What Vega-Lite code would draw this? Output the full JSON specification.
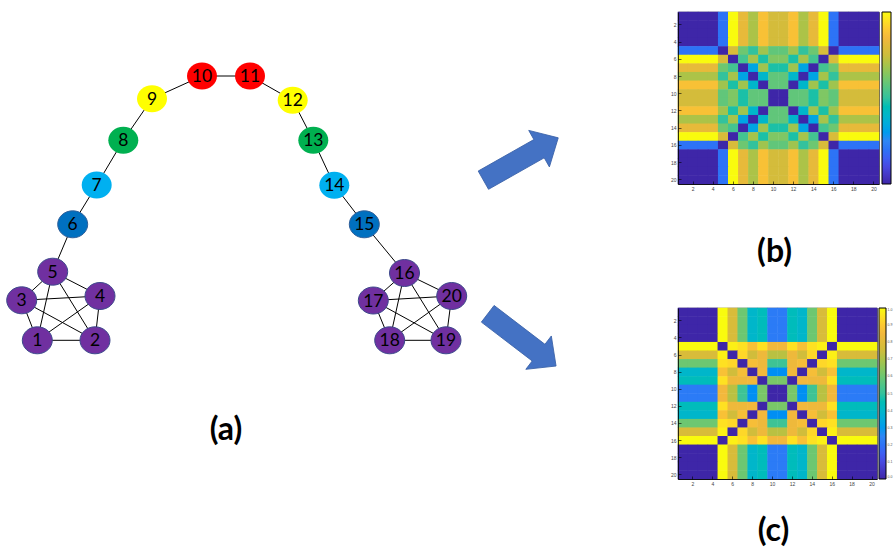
{
  "$schema": "https://vega.github.io/schema/vega-lite/v6.json",
  "padding": {"left": 0, "top": 11, "right": 0, "bottom": 0},
  "background": "white",
  "bounds": "flush",
  "spacing": 78,
  "config": {
    "font": "Lato",
    "view": {"stroke": "black", "strokeWidth": 0.8},
    "axis": {"domainColor": "black", "domainWidth": 0.8, "tickColor": "black", "tickWidth": 0.6, "tickSize": -3, "labelFontSize": 5, "labelColor": "#444", "labelFont": "Liberation Sans", "labelPadding": 5, "grid": false, "bandPosition": 0.5}
  },
  "datasets": {
    "nodes": [
      {"id": 1, "g": "clique", "x": 37.3, "y": 339.3},
      {"id": 2, "g": "clique", "x": 95, "y": 339.3},
      {"id": 3, "g": "clique", "x": 21.7, "y": 299.3},
      {"id": 4, "g": "clique", "x": 100, "y": 295},
      {"id": 5, "g": "clique", "x": 52.7, "y": 270.7},
      {"id": 6, "g": "d1", "x": 72.7, "y": 223.3},
      {"id": 7, "g": "d2", "x": 96.7, "y": 184},
      {"id": 8, "g": "d3", "x": 123.3, "y": 139.3},
      {"id": 9, "g": "d4", "x": 152, "y": 97.7},
      {"id": 10, "g": "d5", "x": 202, "y": 75},
      {"id": 11, "g": "d5", "x": 250, "y": 75},
      {"id": 12, "g": "d4", "x": 292.7, "y": 99.3},
      {"id": 13, "g": "d3", "x": 313.3, "y": 139.3},
      {"id": 14, "g": "d2", "x": 334.3, "y": 184.3},
      {"id": 15, "g": "d1", "x": 364.3, "y": 223.3},
      {"id": 16, "g": "clique", "x": 404.5, "y": 272},
      {"id": 17, "g": "clique", "x": 373.3, "y": 299.5},
      {"id": 18, "g": "clique", "x": 389.7, "y": 339.3},
      {"id": 19, "g": "clique", "x": 446, "y": 339.3},
      {"id": 20, "g": "clique", "x": 451.7, "y": 295}
    ],
    "edges": [
      {"s": 1, "t": 2}, {"s": 1, "t": 3}, {"s": 1, "t": 4}, {"s": 1, "t": 5}, {"s": 2, "t": 3},
      {"s": 2, "t": 4}, {"s": 2, "t": 5}, {"s": 3, "t": 4}, {"s": 3, "t": 5}, {"s": 4, "t": 5},
      {"s": 5, "t": 6}, {"s": 6, "t": 7}, {"s": 7, "t": 8}, {"s": 8, "t": 9}, {"s": 9, "t": 10},
      {"s": 10, "t": 11}, {"s": 11, "t": 12}, {"s": 12, "t": 13}, {"s": 13, "t": 14}, {"s": 14, "t": 15},
      {"s": 15, "t": 16},
      {"s": 16, "t": 17}, {"s": 16, "t": 18}, {"s": 16, "t": 19}, {"s": 16, "t": 20}, {"s": 17, "t": 18},
      {"s": 17, "t": 19}, {"s": 17, "t": 20}, {"s": 18, "t": 19}, {"s": 18, "t": 20}, {"s": 19, "t": 20}
    ],
    "arrows": [
      {"to": "b", "x": 520.8, "y": 158},
      {"to": "c", "x": 521.9, "y": 338.9}
    ],
    "panel": [{"label": "(a)", "x": 226, "y": 429}],
    "cells": [
      {"i":1,"j":1,"b":0,"c":0},{"i":1,"j":2,"b":0,"c":0},{"i":1,"j":3,"b":0,"c":0},{"i":1,"j":4,"b":0,"c":0},{"i":1,"j":5,"b":0.2,"c":1},{"i":1,"j":6,"b":1,"c":0.78},{"i":1,"j":7,"b":0.82,"c":0.6},{"i":1,"j":8,"b":0.7,"c":0.4},{"i":1,"j":9,"b":0.88,"c":0.44},{"i":1,"j":10,"b":0.77,"c":0.22},{"i":1,"j":11,"b":0.77,"c":0.22},{"i":1,"j":12,"b":0.88,"c":0.44},{"i":1,"j":13,"b":0.7,"c":0.4},{"i":1,"j":14,"b":0.82,"c":0.6},{"i":1,"j":15,"b":1,"c":0.78},{"i":1,"j":16,"b":0.2,"c":1},{"i":1,"j":17,"b":0,"c":0},{"i":1,"j":18,"b":0,"c":0},{"i":1,"j":19,"b":0,"c":0},{"i":1,"j":20,"b":0,"c":0},
      {"i":2,"j":1,"b":0,"c":0},{"i":2,"j":2,"b":0,"c":0},{"i":2,"j":3,"b":0,"c":0},{"i":2,"j":4,"b":0,"c":0},{"i":2,"j":5,"b":0.2,"c":1},{"i":2,"j":6,"b":1,"c":0.78},{"i":2,"j":7,"b":0.82,"c":0.6},{"i":2,"j":8,"b":0.7,"c":0.4},{"i":2,"j":9,"b":0.88,"c":0.44},{"i":2,"j":10,"b":0.77,"c":0.22},{"i":2,"j":11,"b":0.77,"c":0.22},{"i":2,"j":12,"b":0.88,"c":0.44},{"i":2,"j":13,"b":0.7,"c":0.4},{"i":2,"j":14,"b":0.82,"c":0.6},{"i":2,"j":15,"b":1,"c":0.78},{"i":2,"j":16,"b":0.2,"c":1},{"i":2,"j":17,"b":0,"c":0},{"i":2,"j":18,"b":0,"c":0},{"i":2,"j":19,"b":0,"c":0},{"i":2,"j":20,"b":0,"c":0},
      {"i":3,"j":1,"b":0,"c":0},{"i":3,"j":2,"b":0,"c":0},{"i":3,"j":3,"b":0,"c":0},{"i":3,"j":4,"b":0,"c":0},{"i":3,"j":5,"b":0.2,"c":1},{"i":3,"j":6,"b":1,"c":0.78},{"i":3,"j":7,"b":0.82,"c":0.6},{"i":3,"j":8,"b":0.7,"c":0.4},{"i":3,"j":9,"b":0.88,"c":0.44},{"i":3,"j":10,"b":0.77,"c":0.22},{"i":3,"j":11,"b":0.77,"c":0.22},{"i":3,"j":12,"b":0.88,"c":0.44},{"i":3,"j":13,"b":0.7,"c":0.4},{"i":3,"j":14,"b":0.82,"c":0.6},{"i":3,"j":15,"b":1,"c":0.78},{"i":3,"j":16,"b":0.2,"c":1},{"i":3,"j":17,"b":0,"c":0},{"i":3,"j":18,"b":0,"c":0},{"i":3,"j":19,"b":0,"c":0},{"i":3,"j":20,"b":0,"c":0},
      {"i":4,"j":1,"b":0,"c":0},{"i":4,"j":2,"b":0,"c":0},{"i":4,"j":3,"b":0,"c":0},{"i":4,"j":4,"b":0,"c":0},{"i":4,"j":5,"b":0.2,"c":1},{"i":4,"j":6,"b":1,"c":0.78},{"i":4,"j":7,"b":0.82,"c":0.6},{"i":4,"j":8,"b":0.7,"c":0.4},{"i":4,"j":9,"b":0.88,"c":0.44},{"i":4,"j":10,"b":0.77,"c":0.22},{"i":4,"j":11,"b":0.77,"c":0.22},{"i":4,"j":12,"b":0.88,"c":0.44},{"i":4,"j":13,"b":0.7,"c":0.4},{"i":4,"j":14,"b":0.82,"c":0.6},{"i":4,"j":15,"b":1,"c":0.78},{"i":4,"j":16,"b":0.2,"c":1},{"i":4,"j":17,"b":0,"c":0},{"i":4,"j":18,"b":0,"c":0},{"i":4,"j":19,"b":0,"c":0},{"i":4,"j":20,"b":0,"c":0},
      {"i":5,"j":1,"b":0.2,"c":1},{"i":5,"j":2,"b":0.2,"c":1},{"i":5,"j":3,"b":0.2,"c":1},{"i":5,"j":4,"b":0.2,"c":1},{"i":5,"j":5,"b":0,"c":0},{"i":5,"j":6,"b":0.78,"c":0.98},{"i":5,"j":7,"b":0.6,"c":0.95},{"i":5,"j":8,"b":0.5,"c":0.88},{"i":5,"j":9,"b":0.68,"c":0.95},{"i":5,"j":10,"b":0.58,"c":0.85},{"i":5,"j":11,"b":0.58,"c":0.85},{"i":5,"j":12,"b":0.68,"c":0.95},{"i":5,"j":13,"b":0.5,"c":0.88},{"i":5,"j":14,"b":0.6,"c":0.95},{"i":5,"j":15,"b":0.78,"c":0.98},{"i":5,"j":16,"b":0,"c":0},{"i":5,"j":17,"b":0.2,"c":1},{"i":5,"j":18,"b":0.2,"c":1},{"i":5,"j":19,"b":0.2,"c":1},{"i":5,"j":20,"b":0.2,"c":1},
      {"i":6,"j":1,"b":1,"c":0.78},{"i":6,"j":2,"b":1,"c":0.78},{"i":6,"j":3,"b":1,"c":0.78},{"i":6,"j":4,"b":1,"c":0.78},{"i":6,"j":5,"b":0.78,"c":0.98},{"i":6,"j":6,"b":0,"c":0},{"i":6,"j":7,"b":0.53,"c":0.93},{"i":6,"j":8,"b":0.69,"c":0.76},{"i":6,"j":9,"b":0.48,"c":0.84},{"i":6,"j":10,"b":0.63,"c":0.72},{"i":6,"j":11,"b":0.63,"c":0.72},{"i":6,"j":12,"b":0.48,"c":0.84},{"i":6,"j":13,"b":0.69,"c":0.76},{"i":6,"j":14,"b":0.53,"c":0.93},{"i":6,"j":15,"b":0,"c":0},{"i":6,"j":16,"b":0.78,"c":0.98},{"i":6,"j":17,"b":1,"c":0.78},{"i":6,"j":18,"b":1,"c":0.78},{"i":6,"j":19,"b":1,"c":0.78},{"i":6,"j":20,"b":1,"c":0.78},
      {"i":7,"j":1,"b":0.82,"c":0.6},{"i":7,"j":2,"b":0.82,"c":0.6},{"i":7,"j":3,"b":0.82,"c":0.6},{"i":7,"j":4,"b":0.82,"c":0.6},{"i":7,"j":5,"b":0.6,"c":0.95},{"i":7,"j":6,"b":0.53,"c":0.93},{"i":7,"j":7,"b":0,"c":0},{"i":7,"j":8,"b":0.33,"c":0.87},{"i":7,"j":9,"b":0.68,"c":0.84},{"i":7,"j":10,"b":0.48,"c":0.52},{"i":7,"j":11,"b":0.48,"c":0.52},{"i":7,"j":12,"b":0.68,"c":0.84},{"i":7,"j":13,"b":0.33,"c":0.87},{"i":7,"j":14,"b":0,"c":0},{"i":7,"j":15,"b":0.53,"c":0.93},{"i":7,"j":16,"b":0.6,"c":0.95},{"i":7,"j":17,"b":0.82,"c":0.6},{"i":7,"j":18,"b":0.82,"c":0.6},{"i":7,"j":19,"b":0.82,"c":0.6},{"i":7,"j":20,"b":0.82,"c":0.6},
      {"i":8,"j":1,"b":0.7,"c":0.4},{"i":8,"j":2,"b":0.7,"c":0.4},{"i":8,"j":3,"b":0.7,"c":0.4},{"i":8,"j":4,"b":0.7,"c":0.4},{"i":8,"j":5,"b":0.5,"c":0.88},{"i":8,"j":6,"b":0.69,"c":0.76},{"i":8,"j":7,"b":0.33,"c":0.87},{"i":8,"j":8,"b":0,"c":0},{"i":8,"j":9,"b":0.4,"c":0.85},{"i":8,"j":10,"b":0.58,"c":0.27},{"i":8,"j":11,"b":0.58,"c":0.27},{"i":8,"j":12,"b":0.4,"c":0.85},{"i":8,"j":13,"b":0,"c":0},{"i":8,"j":14,"b":0.33,"c":0.87},{"i":8,"j":15,"b":0.69,"c":0.76},{"i":8,"j":16,"b":0.5,"c":0.88},{"i":8,"j":17,"b":0.7,"c":0.4},{"i":8,"j":18,"b":0.7,"c":0.4},{"i":8,"j":19,"b":0.7,"c":0.4},{"i":8,"j":20,"b":0.7,"c":0.4},
      {"i":9,"j":1,"b":0.88,"c":0.44},{"i":9,"j":2,"b":0.88,"c":0.44},{"i":9,"j":3,"b":0.88,"c":0.44},{"i":9,"j":4,"b":0.88,"c":0.44},{"i":9,"j":5,"b":0.68,"c":0.95},{"i":9,"j":6,"b":0.48,"c":0.84},{"i":9,"j":7,"b":0.68,"c":0.84},{"i":9,"j":8,"b":0.4,"c":0.85},{"i":9,"j":9,"b":0,"c":0},{"i":9,"j":10,"b":0.58,"c":0.62},{"i":9,"j":11,"b":0.58,"c":0.62},{"i":9,"j":12,"b":0,"c":0},{"i":9,"j":13,"b":0.4,"c":0.85},{"i":9,"j":14,"b":0.68,"c":0.84},{"i":9,"j":15,"b":0.48,"c":0.84},{"i":9,"j":16,"b":0.68,"c":0.95},{"i":9,"j":17,"b":0.88,"c":0.44},{"i":9,"j":18,"b":0.88,"c":0.44},{"i":9,"j":19,"b":0.88,"c":0.44},{"i":9,"j":20,"b":0.88,"c":0.44},
      {"i":10,"j":1,"b":0.77,"c":0.22},{"i":10,"j":2,"b":0.77,"c":0.22},{"i":10,"j":3,"b":0.77,"c":0.22},{"i":10,"j":4,"b":0.77,"c":0.22},{"i":10,"j":5,"b":0.58,"c":0.85},{"i":10,"j":6,"b":0.63,"c":0.72},{"i":10,"j":7,"b":0.48,"c":0.52},{"i":10,"j":8,"b":0.58,"c":0.27},{"i":10,"j":9,"b":0.58,"c":0.62},{"i":10,"j":10,"b":0,"c":0},{"i":10,"j":11,"b":0,"c":0},{"i":10,"j":12,"b":0.58,"c":0.62},{"i":10,"j":13,"b":0.58,"c":0.27},{"i":10,"j":14,"b":0.48,"c":0.52},{"i":10,"j":15,"b":0.63,"c":0.72},{"i":10,"j":16,"b":0.58,"c":0.85},{"i":10,"j":17,"b":0.77,"c":0.22},{"i":10,"j":18,"b":0.77,"c":0.22},{"i":10,"j":19,"b":0.77,"c":0.22},{"i":10,"j":20,"b":0.77,"c":0.22},
      {"i":11,"j":1,"b":0.77,"c":0.22},{"i":11,"j":2,"b":0.77,"c":0.22},{"i":11,"j":3,"b":0.77,"c":0.22},{"i":11,"j":4,"b":0.77,"c":0.22},{"i":11,"j":5,"b":0.58,"c":0.85},{"i":11,"j":6,"b":0.63,"c":0.72},{"i":11,"j":7,"b":0.48,"c":0.52},{"i":11,"j":8,"b":0.58,"c":0.27},{"i":11,"j":9,"b":0.58,"c":0.62},{"i":11,"j":10,"b":0,"c":0},{"i":11,"j":11,"b":0,"c":0},{"i":11,"j":12,"b":0.58,"c":0.62},{"i":11,"j":13,"b":0.58,"c":0.27},{"i":11,"j":14,"b":0.48,"c":0.52},{"i":11,"j":15,"b":0.63,"c":0.72},{"i":11,"j":16,"b":0.58,"c":0.85},{"i":11,"j":17,"b":0.77,"c":0.22},{"i":11,"j":18,"b":0.77,"c":0.22},{"i":11,"j":19,"b":0.77,"c":0.22},{"i":11,"j":20,"b":0.77,"c":0.22},
      {"i":12,"j":1,"b":0.88,"c":0.44},{"i":12,"j":2,"b":0.88,"c":0.44},{"i":12,"j":3,"b":0.88,"c":0.44},{"i":12,"j":4,"b":0.88,"c":0.44},{"i":12,"j":5,"b":0.68,"c":0.95},{"i":12,"j":6,"b":0.48,"c":0.84},{"i":12,"j":7,"b":0.68,"c":0.84},{"i":12,"j":8,"b":0.4,"c":0.85},{"i":12,"j":9,"b":0,"c":0},{"i":12,"j":10,"b":0.58,"c":0.62},{"i":12,"j":11,"b":0.58,"c":0.62},{"i":12,"j":12,"b":0,"c":0},{"i":12,"j":13,"b":0.4,"c":0.85},{"i":12,"j":14,"b":0.68,"c":0.84},{"i":12,"j":15,"b":0.48,"c":0.84},{"i":12,"j":16,"b":0.68,"c":0.95},{"i":12,"j":17,"b":0.88,"c":0.44},{"i":12,"j":18,"b":0.88,"c":0.44},{"i":12,"j":19,"b":0.88,"c":0.44},{"i":12,"j":20,"b":0.88,"c":0.44},
      {"i":13,"j":1,"b":0.7,"c":0.4},{"i":13,"j":2,"b":0.7,"c":0.4},{"i":13,"j":3,"b":0.7,"c":0.4},{"i":13,"j":4,"b":0.7,"c":0.4},{"i":13,"j":5,"b":0.5,"c":0.88},{"i":13,"j":6,"b":0.69,"c":0.76},{"i":13,"j":7,"b":0.33,"c":0.87},{"i":13,"j":8,"b":0,"c":0},{"i":13,"j":9,"b":0.4,"c":0.85},{"i":13,"j":10,"b":0.58,"c":0.27},{"i":13,"j":11,"b":0.58,"c":0.27},{"i":13,"j":12,"b":0.4,"c":0.85},{"i":13,"j":13,"b":0,"c":0},{"i":13,"j":14,"b":0.33,"c":0.87},{"i":13,"j":15,"b":0.69,"c":0.76},{"i":13,"j":16,"b":0.5,"c":0.88},{"i":13,"j":17,"b":0.7,"c":0.4},{"i":13,"j":18,"b":0.7,"c":0.4},{"i":13,"j":19,"b":0.7,"c":0.4},{"i":13,"j":20,"b":0.7,"c":0.4},
      {"i":14,"j":1,"b":0.82,"c":0.6},{"i":14,"j":2,"b":0.82,"c":0.6},{"i":14,"j":3,"b":0.82,"c":0.6},{"i":14,"j":4,"b":0.82,"c":0.6},{"i":14,"j":5,"b":0.6,"c":0.95},{"i":14,"j":6,"b":0.53,"c":0.93},{"i":14,"j":7,"b":0,"c":0},{"i":14,"j":8,"b":0.33,"c":0.87},{"i":14,"j":9,"b":0.68,"c":0.84},{"i":14,"j":10,"b":0.48,"c":0.52},{"i":14,"j":11,"b":0.48,"c":0.52},{"i":14,"j":12,"b":0.68,"c":0.84},{"i":14,"j":13,"b":0.33,"c":0.87},{"i":14,"j":14,"b":0,"c":0},{"i":14,"j":15,"b":0.53,"c":0.93},{"i":14,"j":16,"b":0.6,"c":0.95},{"i":14,"j":17,"b":0.82,"c":0.6},{"i":14,"j":18,"b":0.82,"c":0.6},{"i":14,"j":19,"b":0.82,"c":0.6},{"i":14,"j":20,"b":0.82,"c":0.6},
      {"i":15,"j":1,"b":1,"c":0.78},{"i":15,"j":2,"b":1,"c":0.78},{"i":15,"j":3,"b":1,"c":0.78},{"i":15,"j":4,"b":1,"c":0.78},{"i":15,"j":5,"b":0.78,"c":0.98},{"i":15,"j":6,"b":0,"c":0},{"i":15,"j":7,"b":0.53,"c":0.93},{"i":15,"j":8,"b":0.69,"c":0.76},{"i":15,"j":9,"b":0.48,"c":0.84},{"i":15,"j":10,"b":0.63,"c":0.72},{"i":15,"j":11,"b":0.63,"c":0.72},{"i":15,"j":12,"b":0.48,"c":0.84},{"i":15,"j":13,"b":0.69,"c":0.76},{"i":15,"j":14,"b":0.53,"c":0.93},{"i":15,"j":15,"b":0,"c":0},{"i":15,"j":16,"b":0.78,"c":0.98},{"i":15,"j":17,"b":1,"c":0.78},{"i":15,"j":18,"b":1,"c":0.78},{"i":15,"j":19,"b":1,"c":0.78},{"i":15,"j":20,"b":1,"c":0.78},
      {"i":16,"j":1,"b":0.2,"c":1},{"i":16,"j":2,"b":0.2,"c":1},{"i":16,"j":3,"b":0.2,"c":1},{"i":16,"j":4,"b":0.2,"c":1},{"i":16,"j":5,"b":0,"c":0},{"i":16,"j":6,"b":0.78,"c":0.98},{"i":16,"j":7,"b":0.6,"c":0.95},{"i":16,"j":8,"b":0.5,"c":0.88},{"i":16,"j":9,"b":0.68,"c":0.95},{"i":16,"j":10,"b":0.58,"c":0.85},{"i":16,"j":11,"b":0.58,"c":0.85},{"i":16,"j":12,"b":0.68,"c":0.95},{"i":16,"j":13,"b":0.5,"c":0.88},{"i":16,"j":14,"b":0.6,"c":0.95},{"i":16,"j":15,"b":0.78,"c":0.98},{"i":16,"j":16,"b":0,"c":0},{"i":16,"j":17,"b":0.2,"c":1},{"i":16,"j":18,"b":0.2,"c":1},{"i":16,"j":19,"b":0.2,"c":1},{"i":16,"j":20,"b":0.2,"c":1},
      {"i":17,"j":1,"b":0,"c":0},{"i":17,"j":2,"b":0,"c":0},{"i":17,"j":3,"b":0,"c":0},{"i":17,"j":4,"b":0,"c":0},{"i":17,"j":5,"b":0.2,"c":1},{"i":17,"j":6,"b":1,"c":0.78},{"i":17,"j":7,"b":0.82,"c":0.6},{"i":17,"j":8,"b":0.7,"c":0.4},{"i":17,"j":9,"b":0.88,"c":0.44},{"i":17,"j":10,"b":0.77,"c":0.22},{"i":17,"j":11,"b":0.77,"c":0.22},{"i":17,"j":12,"b":0.88,"c":0.44},{"i":17,"j":13,"b":0.7,"c":0.4},{"i":17,"j":14,"b":0.82,"c":0.6},{"i":17,"j":15,"b":1,"c":0.78},{"i":17,"j":16,"b":0.2,"c":1},{"i":17,"j":17,"b":0,"c":0},{"i":17,"j":18,"b":0,"c":0},{"i":17,"j":19,"b":0,"c":0},{"i":17,"j":20,"b":0,"c":0},
      {"i":18,"j":1,"b":0,"c":0},{"i":18,"j":2,"b":0,"c":0},{"i":18,"j":3,"b":0,"c":0},{"i":18,"j":4,"b":0,"c":0},{"i":18,"j":5,"b":0.2,"c":1},{"i":18,"j":6,"b":1,"c":0.78},{"i":18,"j":7,"b":0.82,"c":0.6},{"i":18,"j":8,"b":0.7,"c":0.4},{"i":18,"j":9,"b":0.88,"c":0.44},{"i":18,"j":10,"b":0.77,"c":0.22},{"i":18,"j":11,"b":0.77,"c":0.22},{"i":18,"j":12,"b":0.88,"c":0.44},{"i":18,"j":13,"b":0.7,"c":0.4},{"i":18,"j":14,"b":0.82,"c":0.6},{"i":18,"j":15,"b":1,"c":0.78},{"i":18,"j":16,"b":0.2,"c":1},{"i":18,"j":17,"b":0,"c":0},{"i":18,"j":18,"b":0,"c":0},{"i":18,"j":19,"b":0,"c":0},{"i":18,"j":20,"b":0,"c":0},
      {"i":19,"j":1,"b":0,"c":0},{"i":19,"j":2,"b":0,"c":0},{"i":19,"j":3,"b":0,"c":0},{"i":19,"j":4,"b":0,"c":0},{"i":19,"j":5,"b":0.2,"c":1},{"i":19,"j":6,"b":1,"c":0.78},{"i":19,"j":7,"b":0.82,"c":0.6},{"i":19,"j":8,"b":0.7,"c":0.4},{"i":19,"j":9,"b":0.88,"c":0.44},{"i":19,"j":10,"b":0.77,"c":0.22},{"i":19,"j":11,"b":0.77,"c":0.22},{"i":19,"j":12,"b":0.88,"c":0.44},{"i":19,"j":13,"b":0.7,"c":0.4},{"i":19,"j":14,"b":0.82,"c":0.6},{"i":19,"j":15,"b":1,"c":0.78},{"i":19,"j":16,"b":0.2,"c":1},{"i":19,"j":17,"b":0,"c":0},{"i":19,"j":18,"b":0,"c":0},{"i":19,"j":19,"b":0,"c":0},{"i":19,"j":20,"b":0,"c":0},
      {"i":20,"j":1,"b":0,"c":0},{"i":20,"j":2,"b":0,"c":0},{"i":20,"j":3,"b":0,"c":0},{"i":20,"j":4,"b":0,"c":0},{"i":20,"j":5,"b":0.2,"c":1},{"i":20,"j":6,"b":1,"c":0.78},{"i":20,"j":7,"b":0.82,"c":0.6},{"i":20,"j":8,"b":0.7,"c":0.4},{"i":20,"j":9,"b":0.88,"c":0.44},{"i":20,"j":10,"b":0.77,"c":0.22},{"i":20,"j":11,"b":0.77,"c":0.22},{"i":20,"j":12,"b":0.88,"c":0.44},{"i":20,"j":13,"b":0.7,"c":0.4},{"i":20,"j":14,"b":0.82,"c":0.6},{"i":20,"j":15,"b":1,"c":0.78},{"i":20,"j":16,"b":0.2,"c":1},{"i":20,"j":17,"b":0,"c":0},{"i":20,"j":18,"b":0,"c":0},{"i":20,"j":19,"b":0,"c":0},{"i":20,"j":20,"b":0,"c":0}
    ]
  },
  "hconcat": [
    {
      "width": 600,
      "height": 537,
      "view": {"stroke": null},
      "layer": [
        {
          "data": {"name": "edges"},
          "transform": [
            {"lookup": "s", "from": {"data": {"name": "nodes"}, "key": "id", "fields": ["x", "y"]}, "as": ["sx", "sy"]},
            {"lookup": "t", "from": {"data": {"name": "nodes"}, "key": "id", "fields": ["x", "y"]}, "as": ["tx", "ty"]}
          ],
          "mark": {"type": "rule", "color": "black", "strokeWidth": 1},
          "encoding": {
            "x": {"field": "sx", "type": "quantitative", "scale": {"domain": [0, 600], "nice": false, "zero": false}, "axis": null},
            "y": {"field": "sy", "type": "quantitative", "scale": {"domain": [11, 548], "reverse": true, "nice": false, "zero": false}, "axis": null},
            "x2": {"field": "tx"},
            "y2": {"field": "ty"}
          }
        },
        {
          "data": {"name": "nodes"},
          "mark": {"type": "point", "filled": true, "opacity": 1, "size": 900, "strokeWidth": 1, "shape": "M-1,0A1,0.9,0,1,0,1,0A1,0.9,0,1,0,-1,0Z"},
          "encoding": {
            "x": {"field": "x", "type": "quantitative", "scale": {"domain": [0, 600], "nice": false, "zero": false}, "axis": null},
            "y": {"field": "y", "type": "quantitative", "scale": {"domain": [11, 548], "reverse": true, "nice": false, "zero": false}, "axis": null},
            "fill": {"field": "g", "type": "nominal", "legend": null, "scale": {"domain": ["clique", "d1", "d2", "d3", "d4", "d5"], "range": ["#7030A0", "#0070C0", "#00B0F0", "#00B050", "#FFFF00", "#FF0000"]}},
            "stroke": {"field": "g", "type": "nominal", "legend": null, "scale": {"domain": ["clique", "d1", "d2", "d3", "d4", "d5"], "range": ["#3D4A8C", "#2F5F9A", "transparent", "transparent", "transparent", "transparent"]}}
          }
        },
        {
          "data": {"name": "nodes"},
          "mark": {"type": "text", "fontSize": 17.5, "font": "Lato", "color": "black", "align": "center", "baseline": "middle", "dy": 1},
          "encoding": {
            "x": {"field": "x", "type": "quantitative", "scale": {"domain": [0, 600], "nice": false, "zero": false}, "axis": null},
            "y": {"field": "y", "type": "quantitative", "scale": {"domain": [11, 548], "reverse": true, "nice": false, "zero": false}, "axis": null},
            "text": {"field": "id", "type": "nominal"}
          }
        },
        {
          "data": {"name": "arrows"},
          "transform": [{"filter": "datum.to == 'b'"}],
          "mark": {"type": "point", "filled": true, "opacity": 1, "color": "#4472C4", "stroke": "#3A62A8", "strokeWidth": 0.8, "size": 7396, "angle": -29.5, "shape": "M-1,-0.244L0.488,-0.244L0.488,-0.488L1,0L0.488,0.488L0.488,0.244L-1,0.244Z"},
          "encoding": {
            "x": {"field": "x", "type": "quantitative", "scale": {"domain": [0, 600], "nice": false, "zero": false}, "axis": null},
            "y": {"field": "y", "type": "quantitative", "scale": {"domain": [11, 548], "reverse": true, "nice": false, "zero": false}, "axis": null}
          }
        },
        {
          "data": {"name": "arrows"},
          "transform": [{"filter": "datum.to == 'c'"}],
          "mark": {"type": "point", "filled": true, "opacity": 1, "color": "#4472C4", "stroke": "#3A62A8", "strokeWidth": 0.8, "size": 7396, "angle": 37.4, "shape": "M-1,-0.244L0.488,-0.244L0.488,-0.488L1,0L0.488,0.488L0.488,0.244L-1,0.244Z"},
          "encoding": {
            "x": {"field": "x", "type": "quantitative", "scale": {"domain": [0, 600], "nice": false, "zero": false}, "axis": null},
            "y": {"field": "y", "type": "quantitative", "scale": {"domain": [11, 548], "reverse": true, "nice": false, "zero": false}, "axis": null}
          }
        },
        {
          "data": {"name": "panel"},
          "mark": {"type": "text", "fontSize": 32, "fontWeight": "bold", "font": "Lato", "color": "black", "align": "center", "baseline": "middle"},
          "encoding": {
            "x": {"field": "x", "type": "quantitative", "scale": {"domain": [0, 600], "nice": false, "zero": false}, "axis": null},
            "y": {"field": "y", "type": "quantitative", "scale": {"domain": [11, 548], "reverse": true, "nice": false, "zero": false}, "axis": null},
            "text": {"field": "label", "type": "nominal"}
          }
        }
      ]
    },
    {
      "bounds": "flush",
      "spacing": 124,
      "resolve": {"scale": {"color": "independent"}},
      "vconcat": [
        {
          "width": 201,
          "height": 172,
          "data": {"name": "cells"},
          "title": {"text": "(b)", "orient": "bottom", "anchor": "middle", "frame": "group", "fontSize": 32, "fontWeight": "bold", "font": "Lato", "color": "black", "offset": 46, "dx": -4},
          "mark": {"type": "rect", "width": {"band": 1.05}, "height": {"band": 1.06}},
          "encoding": {
            "x": {"field": "j", "type": "ordinal", "scale": {"paddingInner": 0, "paddingOuter": 0}, "axis": {"values": [2, 4, 6, 8, 10, 12, 14, 16, 18, 20], "title": null, "labelAngle": 0}},
            "y": {"field": "i", "type": "ordinal", "scale": {"paddingInner": 0, "paddingOuter": 0}, "axis": {"values": [2, 4, 6, 8, 10, 12, 14, 16, 18, 20], "title": null}},
            "color": {"field": "b", "type": "quantitative",
              "scale": {"domain": [0, 0.125, 0.25, 0.375, 0.5, 0.625, 0.75, 0.85, 0.9, 1], "range": ["#3E26A8", "#4752F0", "#2E86F5", "#06B2D2", "#33C29D", "#7CC766", "#CDBD3C", "#F2B83C", "#FCC832", "#F9FB0E"]},
              "legend": {"type": "gradient", "direction": "vertical", "orient": "right", "offset": 3, "padding": 0, "title": null, "gradientLength": 172, "gradientThickness": 9, "gradientStrokeColor": "black", "gradientStrokeWidth": 1, "labelExpr": "''", "labelFontSize": 1}
            }
          }
        },
        {
          "width": 199,
          "height": 171,
          "data": {"name": "cells"},
          "title": {"text": "(c)", "orient": "bottom", "anchor": "middle", "frame": "group", "fontSize": 32, "fontWeight": "bold", "font": "Lato", "color": "black", "offset": 30, "dx": -4},
          "mark": {"type": "rect", "width": {"band": 1.05}, "height": {"band": 1.06}},
          "encoding": {
            "x": {"field": "j", "type": "ordinal", "scale": {"paddingInner": 0, "paddingOuter": 0}, "axis": {"values": [2, 4, 6, 8, 10, 12, 14, 16, 18, 20], "title": null, "labelAngle": 0}},
            "y": {"field": "i", "type": "ordinal", "scale": {"paddingInner": 0, "paddingOuter": 0}, "axis": {"values": [2, 4, 6, 8, 10, 12, 14, 16, 18, 20], "title": null}},
            "color": {"field": "c", "type": "quantitative",
              "scale": {"domain": [0, 0.125, 0.25, 0.375, 0.5, 0.625, 0.75, 0.85, 0.9, 1], "range": ["#3E26A8", "#4752F0", "#2E86F5", "#06B2D2", "#33C29D", "#7CC766", "#CDBD3C", "#F2B83C", "#FCC832", "#F9FB0E"]},
              "legend": {"type": "gradient", "direction": "vertical", "orient": "right", "offset": 2, "padding": 0, "title": null, "gradientLength": 171, "gradientThickness": 7, "gradientStrokeColor": "black", "gradientStrokeWidth": 1, "labelFontSize": 3.5, "labelOffset": 1.5, "labelColor": "#555", "labelFont": "Liberation Sans", "values": [0, 0.1, 0.2, 0.3, 0.4, 0.5, 0.6, 0.7, 0.8, 0.9, 1]}
            }
          }
        }
      ]
    }
  ]
}
